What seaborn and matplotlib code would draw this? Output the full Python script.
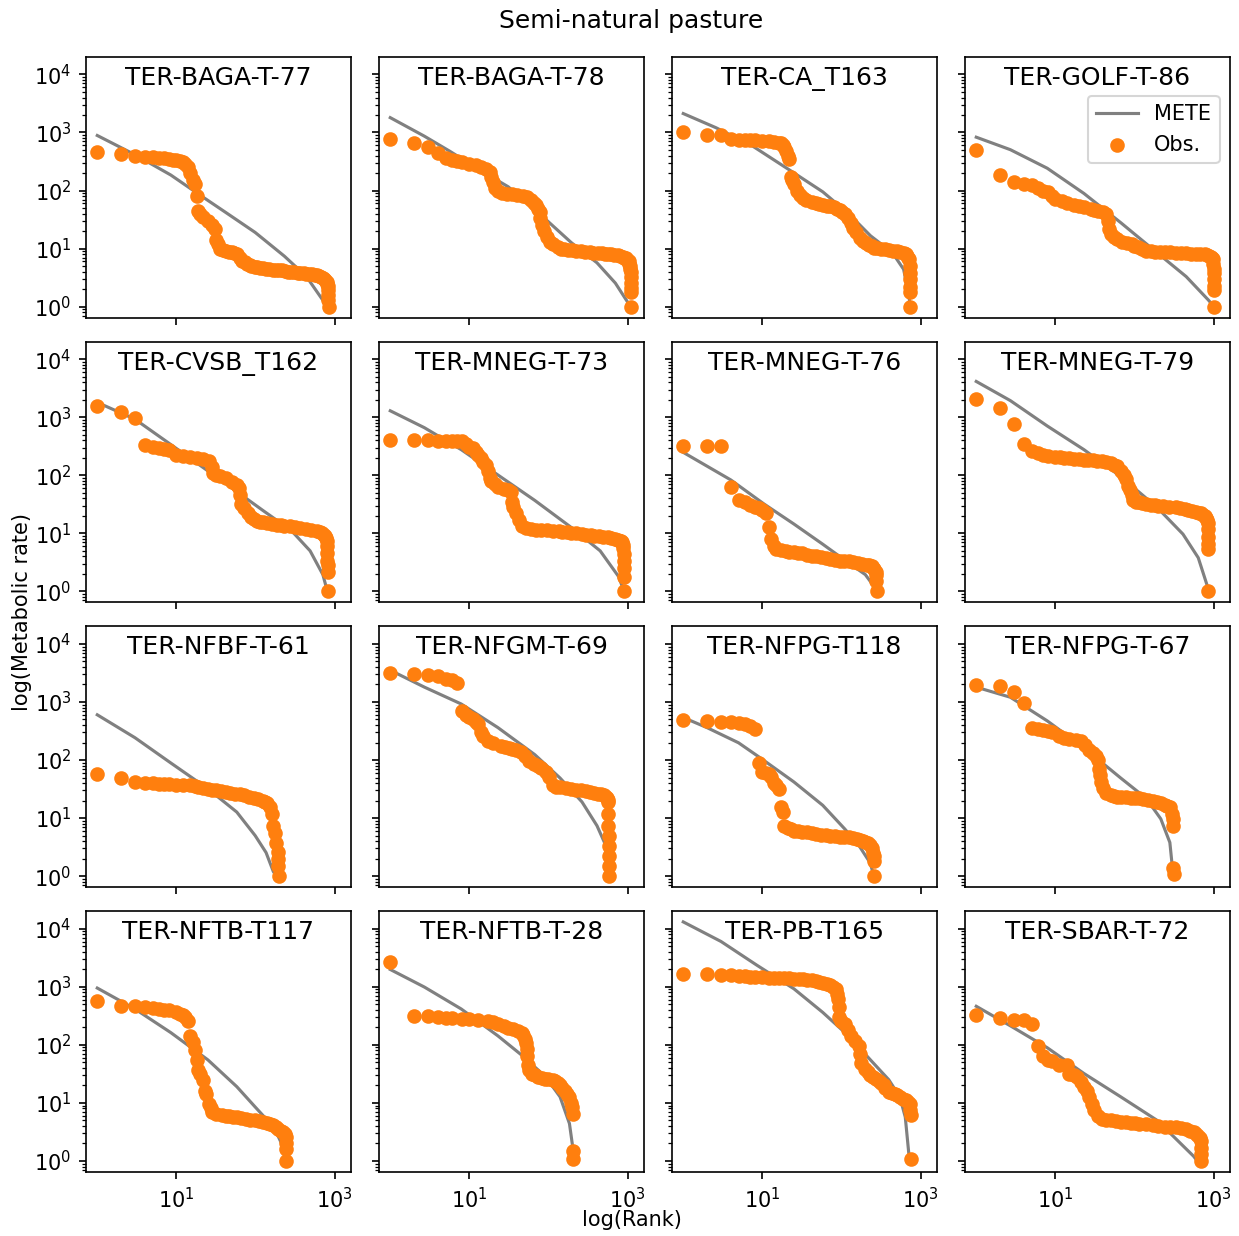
import matplotlib
matplotlib.use("Agg")
import matplotlib.pyplot as plt
from matplotlib.ticker import NullLocator
import seaborn as sns

# Site names, in panel order (row by row)
sites = ["TER-BAGA-T-77", "TER-BAGA-T-78", "TER-CA_T163", "TER-GOLF-T-86",
         "TER-CVSB_T162", "TER-MNEG-T-73", "TER-MNEG-T-76", "TER-MNEG-T-79",
         "TER-NFBF-T-61", "TER-NFGM-T-69", "TER-NFPG-T118", "TER-NFPG-T-67",
         "TER-NFTB-T117", "TER-NFTB-T-28", "TER-PB-T165", "TER-SBAR-T-72"]

# Observed (rank, metabolic rate) pairs and METE predictions, one pair of lists per site
baga77_obs = [(1,460),(2,425),(3,390),(4,385),(5,378),(6,370),(7,362),(8,352),(9,342),(10,330),(11,318),(12,305),(13,290),(14,255),(15,200),(16,150),(17,128),(18,80),(19,45),(20,40),(22,35),(25,30),(28,26),(31,22),(32,14),(34,12),(36,10),(39,9.5),(42,9.1),(46,8.8),(50,8.6),(54,8.3),(58,8.0),(64,7.0),(68,6.1),(73,5.8),(78,5.5),(84,5.2),(89,5.0),(100,4.9),(105,4.8),(115,4.7),(125,4.6),(137,4.5),(150,4.4),(165,4.35),(180,4.3),(197,4.25),(215,4.2),(237,4.1),(260,4.0),(285,3.95),(310,3.9),(340,3.85),(370,3.8),(405,3.75),(440,3.7),(480,3.65),(520,3.6),(560,3.55),(600,3.5),(640,3.4),(680,3.3),(710,3.15),(740,3.0),(765,2.85),(790,2.7),(805,2.5),(815,2.3),(825,1.9),(832,1.6),(836,1.3),(840,1.0)]
baga77_mete = [(1,887),(3,413),(8.5,185),(20,83),(42,42),(99,19),(232,7.4),(440,3.3),(708,1.3),(840,1.0)]

baga78_obs = [(1,785),(2,660),(3,555),(4,442),(5,360),(6,340),(7,322),(8,308),(10,290),(12,270),(14,255),(16,235),(18,205),(19,170),(20,140),(21,110),(23,97),(26,91),(30,88),(35,86),(40,84),(47,80),(54,77),(60,70),(66,62),(70,56),(74,48),(77,42),(79,33),(82,25),(88,20),(95,16),(105,13),(115,12),(130,10.5),(143,10.0),(157,9.7),(175,9.5),(200,9.3),(225,9.15),(260,9.0),(290,8.85),(330,8.7),(370,8.55),(420,8.4),(470,8.3),(520,8.2),(570,8.1),(620,8.0),(680,7.85),(750,7.7),(810,7.45),(870,7.2),(910,7.0),(950,6.8),(990,6.4),(1030,6.0),(1055,5.5),(1070,5.0),(1080,4.5),(1090,4.0),(1100,3.2),(1106,2.6),(1110,2.1),(1113,1.8),(1120,1.0)]
baga78_mete = [(1,1800),(2.7,863),(5.7,472),(13.5,226),(31,116),(92,32),(194,12.7),(410,5.7),(700,2.55),(1000,1.2),(1120,1.0)]

ca163_obs = [(1,1013),(2,922),(3,898),(4,785),(5,755),(6,745),(7,735),(8,728),(10,715),(12,700),(14,690),(16,665),(17,650),(18,617),(19,560),(20,472),(21,400),(22,352),(23,170),(24,150),(25,130),(27,100),(30,85),(33,75),(36,68),(42,63),(47,61),(52,59),(58,57),(65,55),(72,53.5),(80,52),(87,49),(95,46),(102,43),(110,40),(120,34),(130,28),(140,23),(151,19),(170,15.5),(188,13.6),(205,12.5),(220,11.5),(240,10.9),(258,10.4),(285,10.2),(320,10.0),(355,9.75),(396,9.5),(445,9.25),(500,9.0),(550,8.75),(609,8.5),(645,8.0),(680,7.5),(700,7.0),(715,6.5),(725,5.0),(728,3.8),(730,3.0),(732,2.2),(733,1.8),(735,1.0)]
ca163_mete = [(1,2117),(2.6,1205),(7.6,578),(22,226),(58,95),(123,40),(233,16.6),(440,8.5),(610,4.4),(715,1.5),(735,1.0)]

golf86_obs = [(1,505),(2,185),(3,142),(4,132),(5,126),(6,110),(7,100),(8,95),(9,82),(10,72),(12,66),(14,62),(17,57),(20,54),(23,52),(28,48),(31,46.5),(35,45),(40,42),(44,40),(46,30),(48,22),(50,18),(55,16),(60,14.5),(70,13),(80,12.3),(92,11.9),(100,11.2),(110,10.5),(125,9.7),(140,9.2),(160,9.0),(180,8.9),(210,8.8),(240,8.7),(280,8.6),(330,8.5),(390,8.4),(450,8.3),(520,8.2),(600,8.1),(680,8.05),(770,8.0),(830,7.8),(880,7.5),(920,7.25),(950,7.0),(985,6.5),(995,5.5),(1000,4.5),(1003,3.8),(1005,3.0),(1007,2.3),(1008,1.95),(1010,1.0)]
golf86_mete = [(1,829),(2.7,505),(7.9,242),(23,89),(67,28),(193,8.5),(450,3.3),(860,1.3),(1010,1.0)]

cvsb162_obs = [(1,1577),(2,1239),(3,961),(4,338),(5,308),(6,295),(7,282),(8,270),(10,225),(12,212),(15,205),(18,198),(22,188),(26,173),(28,140),(29,108),(32,103),(36,97),(42,89),(50,78),(58,68),(62,60),(64,45),(66,32),(72,27),(80,22),(89,19),(97,17.5),(105,16.5),(114,16.0),(123,15.6),(140,15.0),(160,14.5),(185,14.1),(210,13.8),(232,13.6),(270,13.2),(320,12.8),(370,12.4),(440,11.9),(510,11.4),(600,10.8),(650,10.4),(700,10.0),(730,9.5),(760,9.0),(780,8.2),(790,7.5),(805,6.0),(810,4.5),(813,3.3),(815,2.8),(817,2.2),(820,1.0)]
cvsb162_mete = [(1,1800),(3,922),(10.5,276),(42,72),(123,25),(285,11.1),(490,5.0),(710,1.95),(790,1.14),(820,1.0)]

mneg73_obs = [(1,402),(2,400),(3,398),(4,396),(5,392),(6,390),(7,388),(8,385),(9,340),(10,310),(11,296),(12,255),(13,220),(14,200),(15,170),(16,150),(17,120),(18,90),(19,80),(21,70),(23,63),(27,58),(31,55),(34,52),(35,35),(36,28),(39,22),(42,17),(46,13.6),(52,12.5),(60,11.9),(70,11.6),(80,11.4),(95,11.25),(114,11.1),(135,10.9),(150,10.7),(170,10.5),(195,10.2),(225,9.95),(265,9.7),(300,9.5),(340,9.3),(380,9.1),(430,8.9),(490,8.7),(560,8.5),(620,8.25),(700,8.0),(750,7.75),(800,7.5),(835,7.25),(860,7.0),(872,6.2),(880,5.5),(890,4.4),(895,3.3),(898,2.5),(901,1.8),(905,1.0)]
mneg73_mete = [(1,1290),(2.7,660),(7.9,276),(23,101),(67,37),(193,12.7),(450,5.0),(770,1.8),(880,1.1)]

mneg76_obs = [(1,325),(2,316),(3,316),(4,63),(5,37),(6,34),(7,31),(8,29),(9,27),(10,25),(11,22),(12,12.7),(13,8.0),(14,6.0),(15,5.3),(17,5.1),(20,4.9),(22,4.8),(25,4.7),(28,4.6),(32,4.5),(37,4.3),(42,4.1),(48,4.0),(55,3.9),(63,3.75),(72,3.6),(83,3.5),(95,3.4),(108,3.35),(123,3.3),(140,3.2),(160,3.1),(183,3.0),(208,2.9),(225,2.8),(240,2.7),(250,2.55),(260,2.4),(270,2.2),(274,1.9),(277,1.5),(280,1.0)]
mneg76_mete = [(1,248),(4,83),(10.5,32),(25,14.5),(58,6.5),(123,3.1),(200,1.95),(260,1.2),(280,1.0)]

mneg79_obs = [(1,2060),(2,1435),(3,776),(4,347),(5,259),(6,240),(7,225),(8,217),(10,208),(11.5,203),(13,198),(15,195),(17,192),(20,188),(23,185),(26,182),(30,180),(34,176),(39,173),(44,167),(50,160),(55,152),(60,142),(68,120),(74,100),(78,85),(82,65),(87,55),(92,45),(97,37),(105,35),(115,34),(125,33),(140,32),(160,31),(180,30.5),(200,30),(230,29.5),(270,29),(330,28),(380,27),(430,26),(480,25),(540,24),(600,23),(650,22.5),(700,22),(740,21),(780,20),(800,18.5),(820,17),(840,15),(848,12),(852,8.5),(855,6.5),(857,5.3),(860,1.0)]
mneg79_mete = [(1,4130),(2.7,1930),(7.9,706),(23,276),(67,95),(193,28),(410,9.7),(640,3.8),(840,1.2),(860,1.0)]

nfbf61_obs = [(1,57),(2,49),(3,42),(4,41),(5,40),(6,39),(7,38.5),(8,38),(10,37.5),(12,37),(15,36.5),(17,36),(19,35),(22,33.5),(25,32),(28,31),(32,30),(37,29),(42,28),(48,27.3),(55,26.5),(63,25.7),(72,25),(82,23.5),(95,22),(108,21),(123,20),(132,19),(140,18),(151,15.6),(160,12),(168,7.4),(176,5.5),(184,3.8),(190,2.6),(193,1.95),(195,1.5),(196,1.0)]
nfbf61_mete = [(1,601),(3,242),(8.5,89),(25,32),(58,12.7),(99,5.0),(136,2.55),(168,1.2),(185,1.0)]

nfgm69_obs = [(1,3160),(2,3080),(3,2950),(4,2770),(5,2520),(6,2350),(7,2100),(8,690),(9,600),(10,540),(11,500),(12,460),(13,420),(14,300),(15,260),(17,212),(20,195),(25,173),(28,166),(32,160),(35,156),(39,151),(45,135),(50,116),(56,95),(65,85),(73,78),(81,72),(92,62),(102,52),(114,37),(125,35),(140,34),(165,33),(193,32),(225,31),(260,30),(295,29),(330,28),(375,27),(420,26),(460,25.5),(505,25),(530,23.5),(550,22),(562,20.5),(570,19),(572,12),(573,7.4),(574,5.0),(575,3.3),(576,2.2),(577,1.5),(578,1.0)]
nfgm69_mete = [(1,3520),(2.7,1800),(7.9,922),(23,361),(67,124),(140,49),(265,19),(410,7.4),(510,3.8),(565,1.5),(578,1.0)]

nfpg118_obs = [(1,485),(2,472),(3,460),(4,455),(5,430),(6,413),(7,387),(8,338),(9,89),(10,63),(11,60),(12,57),(13,52),(14,40),(15,37),(16,32),(17,15.6),(18,12.7),(19,7.4),(21,6.8),(23,6.4),(25,6.1),(28,5.95),(32,5.8),(37,5.65),(42,5.5),(48,5.35),(55,5.2),(63,5.1),(72,5.0),(83,4.9),(95,4.8),(108,4.75),(123,4.7),(139,4.55),(155,4.4),(170,4.25),(187,4.1),(200,3.9),(215,3.7),(230,3.4),(245,3.1),(252,2.5),(256,2.2),(257,1.8),(258,1.0)]
nfpg118_mete = [(1,540),(2,361),(5,198),(9.5,108),(25,42),(58,16.6),(110,6.5),(168,3.3),(230,1.7),(258,1.0)]

nfpg67_obs = [(1,1930),(2,1876),(3,1475),(4,948),(5,352),(6,340),(7,335),(8,320),(9,300),(11,259),(13,240),(15,226),(18,218),(21,212),(24,180),(27,151),(30,130),(33,116),(35,100),(36,70),(37,55),(38,42),(40,33),(44,27),(50,25),(55,24),(60,23.5),(67,23),(78,22.8),(90,22.5),(102,22.2),(114,22),(130,21.3),(150,20.5),(170,19.8),(193,19),(215,18),(240,17),(260,16.3),(280,15.6),(300,12),(306,9.7),(309,7.4),(310,1.4),(312,1.1)]
nfpg67_mete = [(1,1800),(2.7,1205),(7.9,472),(23,162),(67,49),(140,22),(215,9.7),(280,3.8),(300,1.5),(312,1.0)]

nftb117_obs = [(1,578),(2,472),(3,460),(4,440),(5,425),(6,412),(7,400),(8,390),(10,370),(11,345),(12,330),(13,300),(14,259),(15,142),(16,110),(17,80),(18,55),(19,37),(20,32),(22,25),(23,16),(24,14),(26,9.7),(27,8.0),(28,7.0),(32,6.4),(38,6.1),(42,6.0),(46,5.9),(52,5.8),(58,5.7),(66,5.5),(75,5.3),(86,5.15),(99,5.0),(112,4.85),(125,4.7),(138,4.55),(151,4.4),(165,4.15),(180,3.9),(194,3.6),(208,3.3),(222,3.1),(236,2.9),(242,2.55),(244,2.0),(245,1.6),(246,1.0)]
nftb117_mete = [(1,948),(3,413),(8.5,162),(25,55),(58,19),(99,8.5),(136,5.3),(190,2.8),(230,1.6),(246,1.0)]

nftb28_obs = [(1,2690),(2,316),(3,316),(4,296),(5,288),(6,284),(8,280),(10,276),(13,268),(17,259),(20,242),(23,226),(27,210),(31,198),(36,185),(41,172),(46,162),(48,150),(50,125),(52,108),(53,85),(54,63),(55,45),(56,37),(62,32),(68,30),(74,28),(82,27),(90,26),(100,25.5),(114,25),(122,23.5),(130,22),(140,20),(150,18),(160,16),(172,14.3),(184,12.7),(195,10),(200,8.5),(202,6.5),(203,1.5),(204,1.07)]
nftb28_mete = [(1,1980),(2.7,986),(7.9,413),(23,142),(48,63),(92,28),(140,12.7),(184,4.4),(200,1.95),(204,1.14)]

pb165_obs = [(1,1686),(2,1686),(3,1620),(4,1577),(5,1535),(6,1510),(7,1490),(8,1475),(10,1450),(12,1430),(14,1416),(16,1408),(19,1400),(22,1390),(25,1380),(29,1360),(33,1340),(37,1315),(42,1290),(47,1255),(52,1220),(58,1175),(65,1128),(71,1070),(78,1000),(85,900),(88,750),(90,618),(92,450),(94,296),(100,260),(110,226),(120,180),(130,142),(150,115),(168,95),(172,70),(178,49),(200,38),(215,34),(232,30),(253,28),(275,26),(297,24),(320,22),(340,20),(360,18),(396,15.6),(430,14.8),(470,14),(505,13.4),(545,12.7),(595,11.8),(650,11),(690,10.4),(730,9.7),(745,7.5),(748,6.1),(750,1.07)]
pb165_mete = [(1,13060),(3,6010),(8.5,2350),(25,922),(58,361),(123,142),(232,55),(396,25),(545,12.7),(640,5.7),(715,1.2),(750,1.0)]

sbar72_obs = [(1,325),(2,284),(3,272),(4,266),(5,225),(6,97),(7,63),(8,55),(9,52),(11,45),(14,44),(15,32),(17,30),(19,28),(21,23),(23,19),(25,16),(27,12.7),(29,9.5),(31,7.4),(35,6.0),(39,5.3),(44,5.1),(50,5.0),(58,4.85),(67,4.7),(78,4.6),(90,4.5),(102,4.45),(114,4.4),(140,4.25),(170,4.1),(200,4.0),(240,3.9),(285,3.85),(330,3.8),(390,3.65),(450,3.5),(500,3.3),(560,3.1),(600,2.9),(640,2.7),(670,2.45),(690,2.2),(695,1.7),(698,1.3),(700,1.0)]
sbar72_mete = [(1,460),(2.7,212),(7.9,89),(23,32),(67,12.7),(193,5.0),(560,1.2),(620,1.0)]

observed = [baga77_obs, baga78_obs, ca163_obs, golf86_obs,
            cvsb162_obs, mneg73_obs, mneg76_obs, mneg79_obs,
            nfbf61_obs, nfgm69_obs, nfpg118_obs, nfpg67_obs,
            nftb117_obs, nftb28_obs, pb165_obs, sbar72_obs]
predicted = [baga77_mete, baga78_mete, ca163_mete, golf86_mete,
             cvsb162_mete, mneg73_mete, mneg76_mete, mneg79_mete,
             nfbf61_mete, nfgm69_mete, nfpg118_mete, nfpg67_mete,
             nftb117_mete, nftb28_mete, pb165_mete, sbar72_mete]

METE_COLOR = "#808080"
OBS_COLOR = "#ff7f0e"

fig, axes = plt.subplots(4, 4, figsize=(1239 / 150, 1236 / 150), dpi=150,
                         sharex=True, sharey=True)
fig.subplots_adjust(left=0.0694, right=0.9927, top=0.9539, bottom=0.0518,
                    wspace=0.1057, hspace=0.092)

for ax, name, obs, mete in zip(axes.flat, sites, observed, predicted):
    m_rank, m_val = zip(*mete)
    o_rank, o_val = zip(*obs)
    sns.lineplot(x=list(m_rank), y=list(m_val), ax=ax, color=METE_COLOR,
                 linewidth=1.5, label="METE", legend=False, sort=False,
                 errorbar=None)
    sns.scatterplot(x=list(o_rank), y=list(o_val), ax=ax, color=OBS_COLOR,
                    s=36, edgecolor=OBS_COLOR, linewidth=1, label="Obs.",
                    legend=False, zorder=3)
    ax.set_xscale("log")
    ax.set_yscale("log")
    ax.text(0.5, 0.893, name, transform=ax.transAxes, ha="center",
            va="baseline", fontsize=12)

ax0 = axes[0, 0]
ax0.set_xlim(0.72, 1610)
ax0.set_ylim(0.645, 19950)
ax0.set_xticks([10, 1000])
for ax in axes.flat:
    ax.xaxis.set_minor_locator(NullLocator())

axes[0, 3].legend(loc="upper right", bbox_to_anchor=(1.0, 0.89), fontsize=10)

fig.text(0.509, 0.9773, "Semi-natural pasture", ha="center", va="baseline",
         fontsize=12)
fig.text(0.51, 0.0081, "log(Rank)", ha="center", va="baseline", fontsize=10)
fig.text(0.0178, 0.505, "log(Metabolic rate)", rotation=90, ha="center",
         va="center", fontsize=10)

fig.savefig("out.png", dpi=150)
